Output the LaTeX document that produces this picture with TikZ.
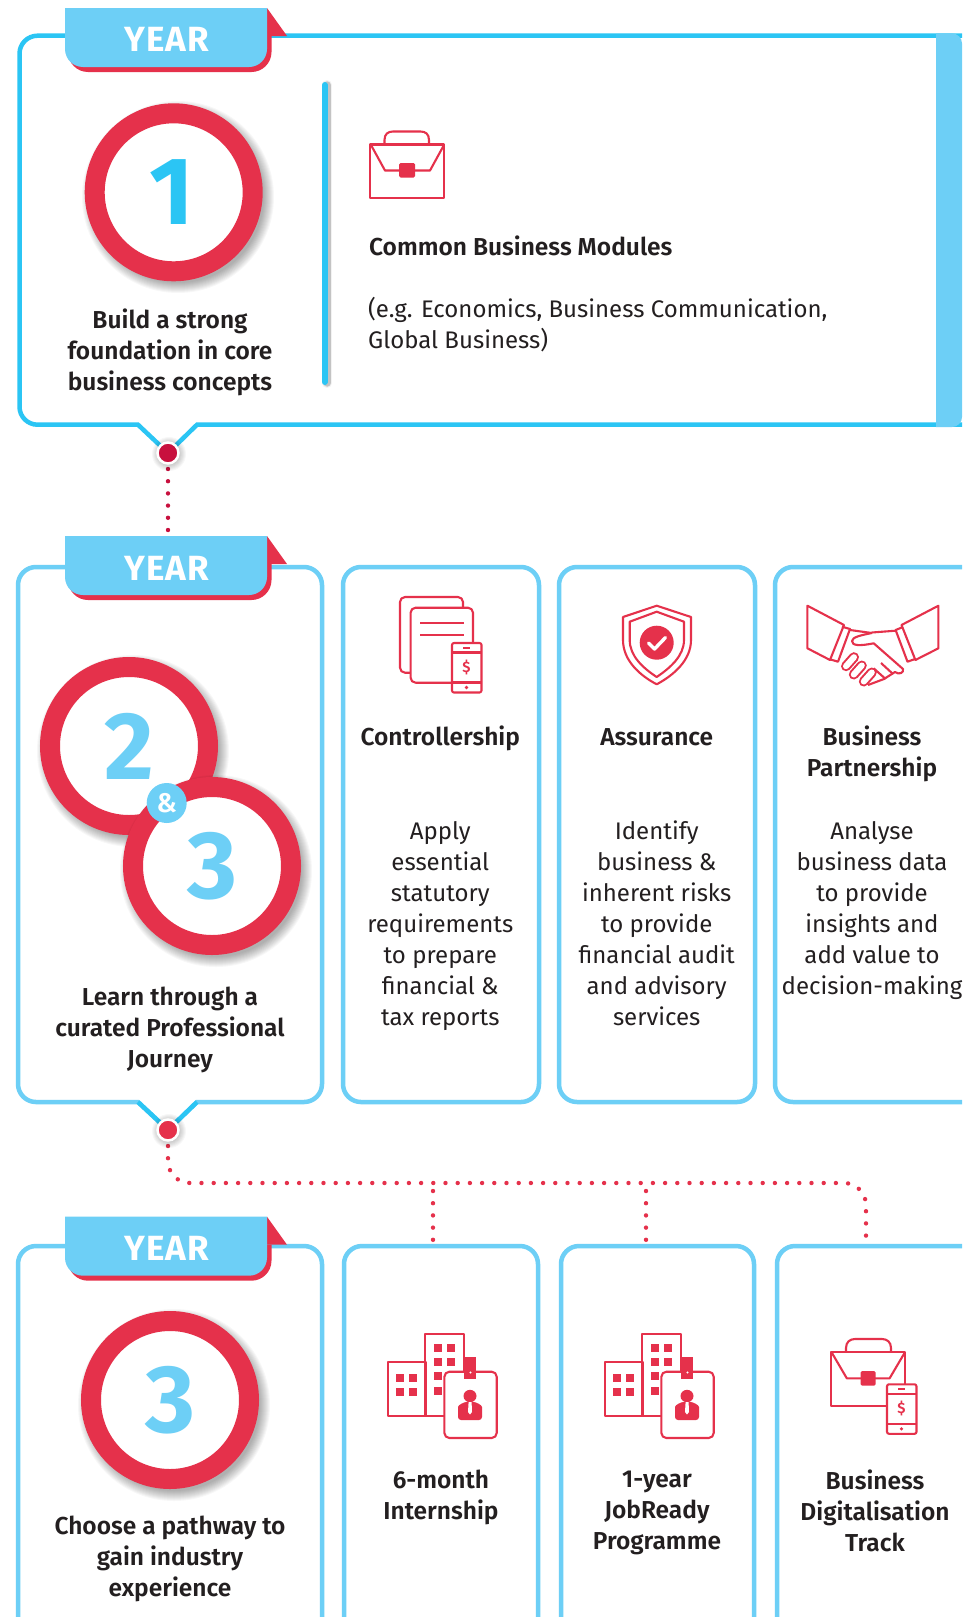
\documentclass[tikz,border=0pt]{standalone}
\usepackage{fontspec}
\setmainfont{Fira Sans}[BoldFont={Fira Sans SemiBold}]
\newfontfamily\bigfont{Fira Sans}[UprightFont={Fira Sans Bold}]
\definecolor{rd}{HTML}{E5314B}
\definecolor{crim}{HTML}{C8103E}
\definecolor{bb}{HTML}{2BC5F4}
\definecolor{lb}{HTML}{6DCFF6}
\definecolor{ink}{HTML}{231F20}
\newcommand\softshadow[3]{\foreach \k in {-3,-2,...,7}{\fill[black,opacity=.03] (#1,#2) circle[radius=#3+\k];}}
\tikzset{
  x=1pt,y=-1pt,
  cardbox/.style={draw=lb,line width=4.5pt,rounded corners=18pt,fill=white,inner sep=0pt,outer sep=0pt,anchor=north west},
  ringnode/.style={circle,draw=rd,line width=20pt,fill=white,minimum size=158pt,inner sep=0pt,outer sep=0pt},
  ico/.style={draw=rd,line width=2.1pt,line join=round},
  bodytxt/.style={align=center,text=ink,inner sep=0pt,font=\fontsize{24}{31}\selectfont,execute at begin node=\strut,execute at end node=\strut},
  headtxt/.style={bodytxt,font=\fontsize{24.5}{31}\selectfont\bfseries},
  leftbody/.style={bodytxt,align=left,anchor=west},
  leftbold/.style={headtxt,align=left,anchor=west},
  yeartxt/.style={text=white,inner sep=0pt,font=\fontsize{35}{35}\bigfont\addfontfeature{LetterSpace=3}},
  bignum/.style={inner sep=0pt,font=\fontsize{96}{96}\bigfont},
  dotted line/.style={line width=4.4pt,line cap=round,dash pattern=on 0pt off 12.2pt},
  dotnode/.style={circle,draw=white,line width=2.5pt,minimum size=21pt,inner sep=0pt,outer sep=0pt},
  yeartab/.pic={
    \fill[rd] (287,36) -- (267,8) -- (267,36) -- cycle;
    \fill[rd] (271.5,36) {[rounded corners=20pt] -- (271.5,72) -- (68,72) -- (68,40)} -- (80,36) -- cycle;
    \fill[lb] (65,8) -- (267,8) {[rounded corners=18pt] -- (267,67) -- (65,67)} -- cycle;
  },
  phone/.pic={
    \draw[ico,fill=white,rounded corners=2pt] (0,0) rectangle (29.5,49.5);
    \draw[ico] (0,9.5) -- (29.5,9.5) (0,39.5) -- (29.5,39.5);
    \draw[rd,line width=1.8pt] (11,5) -- (18,5);
    \fill[rd] (14.5,44.5) circle[radius=1.8];
    \node[text=rd,inner sep=0pt,font=\fontsize{15}{15}\selectfont\bfseries] at (14.5,24.5) {\$};
  },
  building/.pic={
    \draw[ico] (387.6,1361.7) rectangle (426,1416);
    \draw[ico] (425.3,1334) rectangle (464.2,1416);
    \foreach \a in {396,409}\foreach \b in {1374,1388}{\fill[rd] (\a,\b) rectangle ++(8,8);}
    \foreach \a in {434,447}\foreach \b in {1344,1358}{\fill[rd] (\a,\b) rectangle ++(8,8);}
    \foreach \b in {1372,1387}{\fill[rd] (434,\b) rectangle ++(8,8);}
    \fill[rd] (464,1357) rectangle (476,1372);
    \draw[ico,fill=white,rounded corners=5pt] (444.4,1371.7) rectangle (496.7,1438);
    \fill[rd] (464,1371) rectangle (476,1379);
    \fill[white] (470.5,1372.5) circle[radius=1.2];
    \fill[rd] (470,1396) ellipse[x radius=6.5,y radius=6.2];
    \fill[rd,rounded corners=3pt] (458,1420) -- (458,1410) .. controls (458,1405) and (464,1402) .. (470,1401.7) .. controls (476,1402) and (482,1405) .. (482,1410) -- (482,1420) -- cycle;
    \fill[white] (468.6,1402) -- (471.6,1402) -- (472,1412) -- (470,1414.5) -- (468,1412) -- cycle;
  },
}
\begin{document}
\begin{tikzpicture}
\clip (0,0) rectangle (962,1617);
\fill[white] (0,0) rectangle (962,1617);

% ---------- year 1 card
\draw[bb,line width=4.5pt,line join=miter,fill=white] (990,35.7) {[rounded corners=18pt] -- (19.5,35.7) -- (19.5,424.7)} -- (138,424.7) -- (168,453) -- (197,424.7) -- (990,424.7) -- cycle;
\fill[lb] (936,33.4) {[rounded corners=10pt] -- (962,33.4) -- (962,427)} -- (936,427) -- cycle;
\pic at (0,0) {yeartab};
\node[yeartxt] (y1) at (166.5,39) {YEAR};

\softshadow{178}{197}{89}
\node[ringnode] (r1) at (173.7,192.3) {};
\node[bignum,text=bb] (n1) at (172,192) {1};
\node[headtxt] (t1) at (170,354.5) {Build a strong\\foundation in core\\business concepts};

\foreach \w/\o in {10/.05,8/.08,7/.12}{\draw[black,opacity=\o,line width=\w pt,line cap=round] (327,85) -- (327,383);}
\draw[bb,line width=6pt,line cap=round] (324.7,85) -- (324.7,382);

% briefcase
\draw[ico] (384.5,143.5) -- (384.5,140) .. controls (384.5,134) and (388,131.5) .. (393,131.5) -- (420.5,131.5) .. controls (425.5,131.5) and (429,134) .. (429,140) -- (429,143.5);
\draw[ico] (370,144.5) rectangle (444,198);
\draw[ico] (371,145) -- (385,170.5) -- (430,170.5) -- (444,145);
\fill[rd,rounded corners=1.5pt] (399,163) rectangle (415,177.5);

\node[leftbold] (t1b) at (369,249.5) {Common Business Modules};
\node[leftbody] (t1c) at (368,327.5) {(e.g. Economics, Business Communication,\\Global Business)};

% ---------- connector 1-2
\coordinate (tab2top) at (168,534);
\draw[crim,dotted line,shorten <=16pt] (168,453) -- (tab2top);
\softshadow{169}{454}{10}
\node[dotnode,fill=crim] (d1) at (168,453) {};

% ---------- year 2 cards
\draw[lb,line width=4.5pt,fill=white] (138,1102) {[rounded corners=18pt] -- (18,1102) -- (18,567) -- (322,567) -- (322,1102)} -- (197,1102) -- (168,1130) -- cycle;
\draw[bb,line width=4.5pt] (138,1102) -- (168,1130) -- (197,1102);
\node[cardbox,minimum width=196pt,minimum height=535pt] (c2a) at (343,567) {};
\node[cardbox,minimum width=196pt,minimum height=535pt] (c2b) at (559,567) {};
\node[cardbox,minimum width=240pt,minimum height=535pt] (c2c) at (775,567) {};
\pic at (0,528) {yeartab};
\node[yeartxt] (y2) at (166.5,568) {YEAR};

\softshadow{133}{751}{89}
\node[ringnode] (r2) at (129,746) {};
\node[bignum,text=lb] (n2) at (129,746.5) {2};
\softshadow{216}{871}{89}
\node[ringnode] (r3) at (212,866) {};
\node[bignum,text=lb] (n3) at (212,866) {3};
\node[circle,fill=lb,minimum size=40pt,inner sep=0pt,text=white,font=\fontsize{27}{27}\selectfont\bfseries] (amp) at (166.7,803) {\&};
\node[headtxt] (t2) at (170,1031.5) {Learn through a\\curated Professional\\Journey};

% controllership icon
\draw[ico,rounded corners=5pt] (410.6,672.7) -- (400,672.7) -- (400,597) -- (463,597) -- (463,607.7);
\draw[ico,fill=white,rounded corners=5pt] (410.6,607.7) rectangle (473,682.7);
\draw[ico] (420,623.3) -- (464,623.3) (420,634.7) -- (464,634.7);
\pic at (452,643) {phone};
% shield icon
\draw[ico] (656.7,605.7) -- (691,617) -- (691,640) .. controls (691,660) and (674,675) .. (656.7,684.3) .. controls (639,675) and (623,660) .. (623,640) -- (623,617) -- cycle;
\draw[ico] (656.7,611.7) -- (684,621.7) -- (684,640) .. controls (684,656) and (670,668) .. (656.7,677) .. controls (643,668) and (629.7,656) .. (629.7,640) -- (629.7,621.7) -- cycle;
\fill[rd] (656.7,642.7) circle[radius=17];
\draw[white,line width=3.4pt,line cap=round,line join=round] (648.5,643) -- (654.5,649) -- (665.5,637.5);
% handshake icon
\draw[ico] (807.4,605.7) -- (844,625) -- (830,660) -- (807.4,648.3) -- cycle;
\draw[ico] (938.4,605.7) -- (901.5,625) -- (915.4,660) -- (938.4,648.3) -- cycle;
\draw[ico] (842,626.7) -- (850,629) -- (838,661.7) -- (830,659.3);
\draw[ico] (903,627) -- (895.6,630) -- (907.5,661.7) -- (915,659);
\draw[ico] (850,630) -- (871.8,633) (871.8,632.5) -- (895.6,630.7);
\draw[ico] (871.8,633) .. controls (862,635) and (852,637) .. (852,641) .. controls (852,646) and (860,646) .. (873.7,643.3) -- (903,669) .. controls (904,673) and (899,675) .. (895,672) -- (884,679) -- (868,685);
\foreach \a/\b in {850/661.7,857.8/670,867.8/677}{
  \draw[rd,line width=10pt,line cap=round] (\a+4,\b-4.5) -- (\a-4,\b+4.5);
  \draw[white,line width=6pt,line cap=round] (\a+4,\b-4.5) -- (\a-4,\b+4.5);}
\draw[ico] (873.7,668.3) -- (885.6,679) (881,663) -- (893,674);

\node[headtxt] (h1) at (440.3,739.5) {Controllership};
\node[headtxt] (h2) at (656.7,739.5) {Assurance};
\node[headtxt] (h3) at (872,756) {Business\\Partnership};
\node[bodytxt] (b1) at (440.3,928) {Apply\\essential\\statutory\\requirements\\to prepare\\financial \&\\tax reports};
\node[bodytxt] (b2) at (656.7,928) {Identify\\business \&\\inherent risks\\to provide\\financial audit\\and advisory\\services};
\node[bodytxt] (b3) at (872,912.5) {Analyse\\business data\\to provide\\insights and\\add value to\\decision-making};

% ---------- year 3 cards
\draw[lb,line width=4.5pt,rounded corners=18pt,fill=white] (18,1650) -- (18,1246) -- (322,1246) -- (322,1650);
\node[cardbox,minimum width=194pt,minimum height=420pt] (c3a) at (344,1246) {};
\node[cardbox,minimum width=193pt,minimum height=420pt] (c3b) at (561,1246) {};
\node[cardbox,minimum width=240pt,minimum height=420pt] (c3c) at (777,1246) {};
\pic at (0,1208.7) {yeartab};
\node[yeartxt] (y3) at (166.5,1248) {YEAR};

% connector 2-3
\coordinate (j1) at (433,1183);
\coordinate (j2) at (646,1183);
\coordinate (e1) at (433,1241);
\coordinate (e2) at (646,1241);
\coordinate (e3) at (866,1238);
\draw[rd,dotted line,shorten <=16pt,rounded corners=22pt] (168,1130) -- (168,1183) -- (866,1183) -- (e3);
\draw[rd,dotted line,shorten <=8pt] (j1) -- (e1);
\draw[rd,dotted line,shorten <=8pt] (j2) -- (e2);
\softshadow{169}{1131}{10}
\node[dotnode,fill=rd] (d2) at (168,1130) {};

\softshadow{174}{1405}{89}
\node[ringnode] (r4) at (170,1400) {};
\node[bignum,text=lb] (n4) at (170,1400) {3};
\node[headtxt] (t3) at (170,1561) {Choose a pathway to\\gain industry\\experience};

\pic at (0,0) {building};
\pic at (217,0) {building};
% briefcase + phone
\draw[ico] (846,1352) -- (846,1348) .. controls (846,1342) and (850,1339) .. (855,1339) -- (882,1339) .. controls (887,1339) and (891,1342) .. (891,1348) -- (891,1352);
\draw[ico] (831,1352.3) rectangle (905,1406);
\draw[ico] (832,1353) -- (846.8,1378.3) -- (889.6,1378.3) -- (904.5,1353);
\fill[rd,rounded corners=1.5pt] (860.6,1371) rectangle (875.7,1385.7);
\pic at (887,1384.3) {phone};

\node[headtxt] (p1) at (441,1499) {6-month\\Internship};
\node[headtxt] (p2) at (657,1515) {1-year\\JobReady\\Programme};
\node[headtxt] (p3) at (875,1515) {Business\\Digitalisation\\Track};
\end{tikzpicture}
\end{document}
